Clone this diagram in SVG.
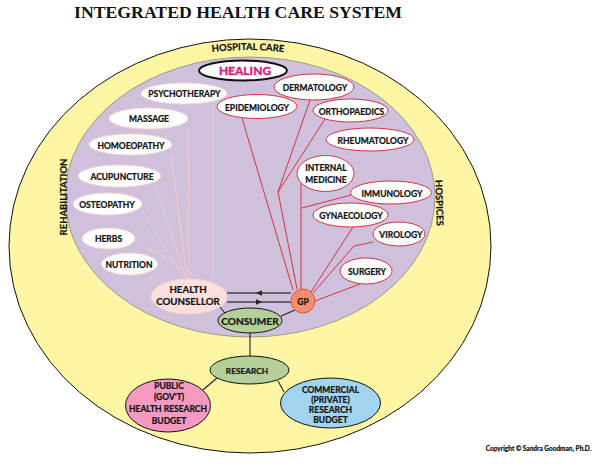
<svg xmlns="http://www.w3.org/2000/svg" width="600" height="466" viewBox="0 0 600 466">
<style>
text{font-family:"Lato","Liberation Sans",sans-serif;font-weight:700;fill:#111;stroke:#111;stroke-width:.22;text-anchor:middle;font-size:8.5px}
.w{fill:#fff;stroke:#f8d5d5;stroke-width:1}
.r{fill:#fff;stroke:#d2343f;stroke-width:1}
.g{fill:#b5cf9a;stroke:#111;stroke-width:1}
.pl{stroke:#f6c9c9;stroke-width:1;fill:none}
.rl{stroke:#d2343f;stroke-width:1;fill:none}
.bl{stroke:#222;stroke-width:1.1;fill:none}
.ar{stroke:#444;stroke-width:1.3;fill:none}
</style>
<defs>
<path id="hc" d="M198 54 Q248 46 298 54"/>
</defs>
<rect width="600" height="466" fill="#fff"/>
<text id="title" x="238" y="18" style="font-family:'Liberation Serif',serif;font-size:17.7px;font-weight:700;stroke:none">INTEGRATED HEALTH CARE SYSTEM</text>
<g id="outer"><ellipse cx="250" cy="246" rx="241" ry="207" fill="#fff6a5" stroke="#111" stroke-width="1"/></g>
<g id="inner"><ellipse cx="250" cy="197" rx="185" ry="140" fill="#cfc0dc" stroke="#9a9a8c" stroke-width="1"/></g>
<g id="connectors">
<path class="pl" d="M213 103V279M188 128L189 279M171 155L187 278M156 187L186 279M142 210L183 277M135 241L200 278M149 275L155 285"/>
<path class="rl" d="M242 118L293 290M310 100L278 192L297 289M325 119L278 192M301 183V289M351 195L302 208M353 227L311 292M373 242L354 246L313 293M360 284L315 301"/>
<path class="ar" d="M227 293H291M227 302H291"/>
<path d="M256 293l6-2.800v5.600zM262 302l-6-2.800v5.600z" fill="#222"/>
<path class="bl" d="M220 307L225 313M281 316L295 310M250 333V356M217 378L203 390M278 381L284 392"/>
</g>
<g id="hospital-care"><text style="font-size:9.500px"><textPath href="#hc" startOffset="50%">HOSPITAL CARE</textPath></text></g>
<g id="rehabilitation"><text transform="translate(67 197) rotate(-90)" style="font-size:9.500px">REHABILITATION</text></g>
<g id="hospices"><text transform="translate(436 203) rotate(88)" style="font-size:9.500px">HOSPICES</text></g>
<g id="healing"><ellipse cx="243" cy="70.500" rx="44" ry="10" fill="#fff" stroke="#111" stroke-width="2"/><text x="245" y="75" style="font-size:12px;fill:#d9207f;stroke:#d9207f;stroke-width:.4">HEALING</text></g>
<g id="psychotherapy"><ellipse class="w" cx="184" cy="93.500" rx="43" ry="10.500"/><text x="184.500" y="97">PSYCHOTHERAPY</text></g>
<g id="massage"><ellipse class="w" cx="148.500" cy="118.500" rx="39.500" ry="10.500"/><text x="149" y="122">MASSAGE</text></g>
<g id="homoeopathy"><ellipse class="w" cx="130.500" cy="144.500" rx="41.500" ry="10.500"/><text x="131" y="149">HOMOEOPATHY</text></g>
<g id="acupuncture"><ellipse class="w" cx="119.500" cy="176" rx="41.500" ry="11"/><text x="122" y="180">ACUPUNCTURE</text></g>
<g id="osteopathy"><ellipse class="w" cx="107.500" cy="204" rx="34.500" ry="11"/><text x="107" y="208">OSTEOPATHY</text></g>
<g id="herbs"><ellipse class="w" cx="108.500" cy="238.500" rx="26.500" ry="10.500"/><text x="108.500" y="242">HERBS</text></g>
<g id="nutrition"><ellipse class="w" cx="129.500" cy="264" rx="28" ry="11"/><text x="129" y="268">NUTRITION</text></g>
<g id="health-counsellor"><ellipse cx="189" cy="296.500" rx="38" ry="17.500" fill="#fde0de" stroke="#fbd0d0"/><text x="188" y="292.500" style="font-size:9.700px">HEALTH</text><text x="188" y="305" style="font-size:9.700px">COUNSELLOR</text></g>
<g id="epidemiology"><ellipse class="r" cx="257" cy="106.500" rx="40" ry="12"/><text x="257" y="110.500">EPIDEMIOLOGY</text></g>
<g id="dermatology"><ellipse class="r" cx="314" cy="87" rx="40" ry="13"/><text x="315" y="91">DERMATOLOGY</text></g>
<g id="orthopaedics"><ellipse class="r" cx="350.500" cy="110.500" rx="37.500" ry="11.500"/><text x="351.500" y="114.500">ORTHOPAEDICS</text></g>
<g id="rheumatology"><ellipse class="r" cx="370" cy="139.500" rx="44" ry="11.500"/><text x="373" y="143.500">RHEUMATOLOGY</text></g>
<g id="internal-medicine"><ellipse class="r" cx="325.500" cy="173.500" rx="28.500" ry="18"/><text x="326" y="171">INTERNAL</text><text x="326" y="183">MEDICINE</text></g>
<g id="immunology"><ellipse class="r" cx="391" cy="192.500" rx="40.500" ry="11.500"/><text x="392" y="196.500">IMMUNOLOGY</text></g>
<g id="gynaecology"><ellipse class="r" cx="350.500" cy="215" rx="37.500" ry="12"/><text x="351" y="219">GYNAECOLOGY</text></g>
<g id="virology"><ellipse class="r" cx="399" cy="234" rx="26" ry="12"/><text x="401" y="238">VIROLOGY</text></g>
<g id="surgery"><ellipse class="r" cx="366" cy="271" rx="26" ry="13"/><text x="367" y="275">SURGERY</text></g>
<g id="gp"><circle cx="303" cy="301" r="12" fill="#f58d6e" stroke="#e2543f"/><text x="303" y="305">GP</text></g>
<g id="consumer"><ellipse class="g" cx="250" cy="320.500" rx="32" ry="12.500"/><text x="250" y="324.500" style="font-size:10.100px">CONSUMER</text></g>
<g id="research"><ellipse class="g" cx="249.500" cy="370" rx="39.500" ry="14"/><text x="247" y="374" style="font-size:8.300px">RESEARCH</text></g>
<g id="public"><ellipse cx="168" cy="405.500" rx="42.500" ry="26.500" fill="#f49ac1" stroke="#111"/><text x="169" y="389" style="font-size:8.500px">PUBLIC</text><text x="169" y="400" style="font-size:8.500px">(GOV'T)</text><text x="168" y="412" style="font-size:8.500px">HEALTH RESEARCH</text><text x="169" y="424" style="font-size:8.500px">BUDGET</text></g>
<g id="commercial"><ellipse cx="330.500" cy="403" rx="50" ry="25" fill="#a3d4ef" stroke="#111"/><text x="330.500" y="393" style="font-size:8.500px">COMMERCIAL</text><text x="330.500" y="403" style="font-size:8.500px">(PRIVATE)</text><text x="330.500" y="413" style="font-size:8.500px">RESEARCH</text><text x="330.500" y="423" style="font-size:8.500px">BUDGET</text></g>
<g id="copyright"><text x="538.500" y="451" style="font-size:6.500px">Copyright © Sandra Goodman, Ph.D.</text></g>
</svg>
